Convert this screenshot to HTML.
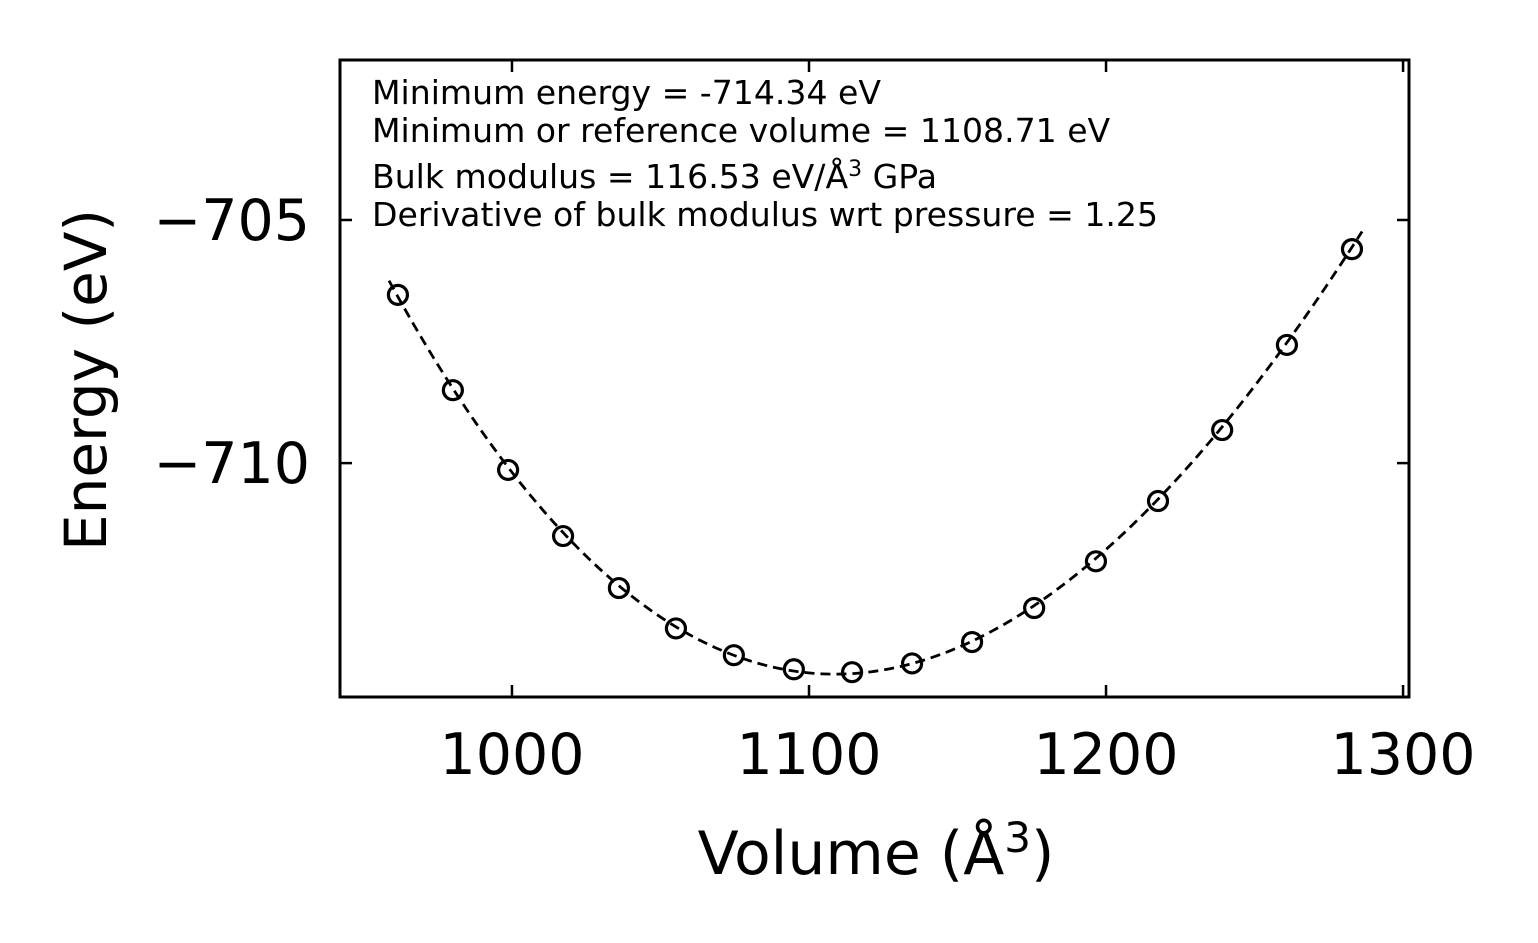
<!DOCTYPE html>
<html><head><meta charset="utf-8"><style>
html,body{margin:0;padding:0;background:#fff;}
svg{display:block;font-family:"DejaVu Sans","Liberation Sans",sans-serif;}
</style></head><body>
<svg id="chart" width="1538" height="943" viewBox="0 0 1538 943">
<rect x="0" y="0" width="1538" height="943" fill="#fff"/>
<g id="plot"></g>
<g id="axes"></g>
<g font-size="33.1" fill="#000">
<text x="372" y="104">Minimum energy = -714.34 eV</text>
<text x="372" y="142">Minimum or reference volume = 1108.71 eV</text>
<text x="372" y="188">Bulk modulus = 116.53 eV/Å<tspan dy="-12" font-size="22">3</tspan><tspan dy="12"> GPa</tspan></text>
<text x="372" y="226">Derivative of bulk modulus wrt pressure = 1.25</text>
</g>
<text x="876" y="874" text-anchor="middle" font-size="60">Volume (Å<tspan dy="-22" font-size="42">3</tspan><tspan dy="22">)</tspan></text>
<text transform="translate(106,380) rotate(-90)" text-anchor="middle" font-size="58">Energy (eV)</text>
</svg>
<script>
const volumes=[961.6,980.1,998.7,1017.2,1036.0,1055.2,1074.7,1094.9,1114.5,1134.7,1154.9,1175.8,1196.6,1217.5,1239.1,1260.9,1282.8];
const energies=[-706.54,-708.50,-710.14,-711.50,-712.57,-713.40,-713.95,-714.24,-714.30,-714.12,-713.68,-712.98,-712.02,-710.78,-709.32,-707.57,-705.60];
const fitParams=[-714.34,1108.71,116.53,1.25];
const fitRange=[958.6,1286.2];
const xTicks=[1000,1100,1200,1300];
const yTicks=[-705,-710];
const yTickLabels=["\u2212705","\u2212710"];

const L=340,R=1409,T=60,B=697;
const xMin=942.1,xMax=1302.0,yMin=-714.81,yMax=-701.71;
const X=v=>L+(v-xMin)/(xMax-xMin)*(R-L);
const Y=v=>B-(v-yMin)/(yMax-yMin)*(B-T);
const NS="http://www.w3.org/2000/svg";
const plot=document.getElementById('plot'),axes=document.getElementById('axes');
function mk(tag,attrs,parent){const e=document.createElementNS(NS,tag);for(const k in attrs)e.setAttribute(k,attrs[k]);parent.appendChild(e);return e;}

function bm(V){const [E0,V0,Bg,Bp]=fitParams;const Bv=Bg/160.21766;const e=Math.pow(V0/V,2/3)-1;
return E0+9*V0*Bv/16*(e*e*e*Bp+e*e*(6-4*(e+1)));}
let d="";for(let i=0;i<=200;i++){const v=fitRange[0]+(fitRange[1]-fitRange[0])*i/200;d+=(i?"L":"M")+X(v).toFixed(2)+","+Y(bm(v)).toFixed(2);}
const fit=mk('path',{d:d,fill:'none',stroke:'#000','stroke-width':2.8,'stroke-dasharray':'10,6'},plot);


volumes.forEach((v,i)=>{const c=mk('circle',{cx:X(v),cy:Y(energies[i]),r:9.5,fill:'none',stroke:'#000','stroke-width':3.2},plot);

});

const fr=mk('rect',{x:L,y:T,width:R-L,height:B-T,fill:'none',stroke:'#000','stroke-width':3},axes);


xTicks.forEach(t=>{const x=X(t);
mk('line',{x1:x,y1:B,x2:x,y2:B-12,stroke:'#000','stroke-width':2.5},axes);
mk('line',{x1:x,y1:T,x2:x,y2:T+12,stroke:'#000','stroke-width':2.5},axes);
const tx=mk('text',{x:x,y:B+77,'text-anchor':'middle','font-size':57},axes);tx.textContent=t;

});
yTicks.forEach((t,i)=>{const y=Y(t);
mk('line',{x1:L,y1:y,x2:L+12,y2:y,stroke:'#000','stroke-width':2.5},axes);
mk('line',{x1:R,y1:y,x2:R-12,y2:y,stroke:'#000','stroke-width':2.5},axes);
const tx=mk('text',{x:L-30,y:y+20,'text-anchor':'end','font-size':57},axes);tx.textContent=yTickLabels[i];

});
</script>
</body></html>
